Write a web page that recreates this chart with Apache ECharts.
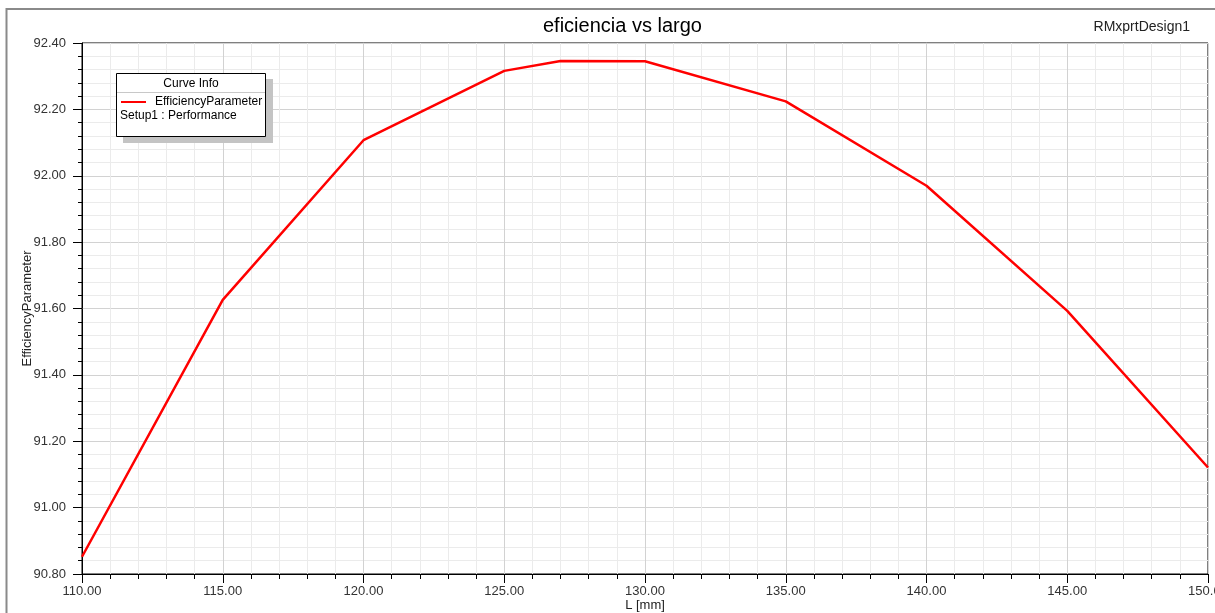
<!DOCTYPE html>
<html>
<head>
<meta charset="utf-8">
<script src="https://cdn.jsdelivr.net/npm/echarts@6/dist/echarts.min.js"></script>
<style>
html,body{margin:0;padding:0;background:#fff;}
#chart{width:1215px;height:613px;}
</style>
</head>
<body>
<div id="chart"></div>
<script>
// Data
const lengthsMm = [110, 115, 120, 125, 127, 130, 135, 140, 145, 150];
const efficiency = [90.852, 91.626, 92.107, 92.316, 92.346, 92.345, 92.224, 91.970, 91.593, 91.121];
const seriesName = 'EfficiencyParameter';
const titleText = 'eficiencia vs largo';
const designName = 'RMxprtDesign1';
const xAxisName = 'L [mm]';
const yAxisName = 'EfficiencyParameter';
const legendHeader = 'Curve Info';
const legendSetup = 'Setup1 : Performance';

const FONT = '"Liberation Sans", Arial, sans-serif';
const chart = echarts.init(document.getElementById('chart'), null, {renderer: 'canvas'});

const points = lengthsMm.map((x, i) => [x, efficiency[i]]);

chart.setOption({
  animation: false,
  backgroundColor: '#fff',
  title: [
    {text: titleText, left: 538, top: 11, textStyle: {fontFamily: FONT, fontSize: 20, fontWeight: 'normal', color: '#000'}},
    {text: designName, right: 20, top: 15, textStyle: {fontFamily: FONT, fontSize: 14, fontWeight: 'normal', color: '#222'}}
  ],
  grid: {left: 82, top: 43, right: 7, bottom: 39, show: true, borderColor: '#000', borderWidth: 1, backgroundColor: '#fff', outerBoundsMode: 'none', containLabel: false},
  xAxis: {
    type: 'value', min: 110, max: 150, interval: 5,
    name: xAxisName, nameLocation: 'middle', nameGap: 25, nameMoveOverlap: false,
    nameTextStyle: {fontFamily: FONT, fontSize: 13, color: '#222'},
    axisLine: {show: true, lineStyle: {color: '#000', width: 1}},
    axisTick: {show: true, inside: false, length: 9, lineStyle: {color: '#000'}},
    minorTick: {show: true, splitNumber: 5, length: 5, lineStyle: {color: '#000'}},
    axisLabel: {margin: 11, fontFamily: FONT, fontSize: 13, color: '#333', formatter: v => v.toFixed(2)},
    splitLine: {show: true, lineStyle: {color: '#d2d2d2', width: 1}},
    minorSplitLine: {show: true, lineStyle: {color: '#ebebeb', width: 1}}
  },
  yAxis: {
    type: 'value', min: 90.8, max: 92.4, interval: 0.2,
    name: yAxisName, nameLocation: 'middle', nameGap: 48, nameRotate: 90, nameMoveOverlap: false,
    nameTextStyle: {fontFamily: FONT, fontSize: 13, color: '#222'},
    axisLine: {show: true, lineStyle: {color: '#000', width: 1}},
    axisTick: {show: true, inside: false, length: 9, lineStyle: {color: '#000'}},
    minorTick: {show: true, splitNumber: 5, length: 4, lineStyle: {color: '#000'}},
    axisLabel: {margin: 16, fontFamily: FONT, fontSize: 13, color: '#333', formatter: v => v.toFixed(2)},
    splitLine: {show: true, lineStyle: {color: '#d2d2d2', width: 1}},
    minorSplitLine: {show: true, lineStyle: {color: '#ebebeb', width: 1}}
  },
  legend: {
    data: [seriesName], left: 121, top: 96, padding: 0, z: 20,
    icon: 'rect', itemWidth: 25, itemHeight: 2,
    textStyle: {fontFamily: FONT, fontSize: 12, color: '#000', padding: [0, 0, 0, 4]}
  },
  graphic: [
    {type: 'rect', z: 10, shape: {x: 123, y: 79, width: 150, height: 64}, style: {fill: '#c4c4c4'}},
    {type: 'rect', z: 11, shape: {x: 116.5, y: 73.5, width: 149, height: 63}, style: {fill: '#fff', stroke: '#000', lineWidth: 1}},
    {type: 'line', z: 12, shape: {x1: 117, y1: 92.5, x2: 265, y2: 92.5}, style: {stroke: '#c8c8c8', lineWidth: 1}},
    {type: 'text', z: 12, x: 191, y: 83.5, style: {text: legendHeader, font: '12px ' + FONT, fill: '#000', align: 'center', verticalAlign: 'middle'}},
    {type: 'text', z: 12, x: 120, y: 115.7, style: {text: legendSetup, font: '12px ' + FONT, fill: '#000', align: 'left', verticalAlign: 'middle'}},
    {type: 'rect', z: 30, silent: true, shape: {x: 6.5, y: 9, width: 1240, height: 640}, style: {fill: 'none', stroke: '#8a8a8a', lineWidth: 2}}
  ],
  series: [{
    name: seriesName, type: 'line', data: points,
    showSymbol: false, symbol: 'none',
    lineStyle: {color: '#ff0000', width: 2.5},
    itemStyle: {color: '#ff0000'}
  }]
});
</script>
</body>
</html>
